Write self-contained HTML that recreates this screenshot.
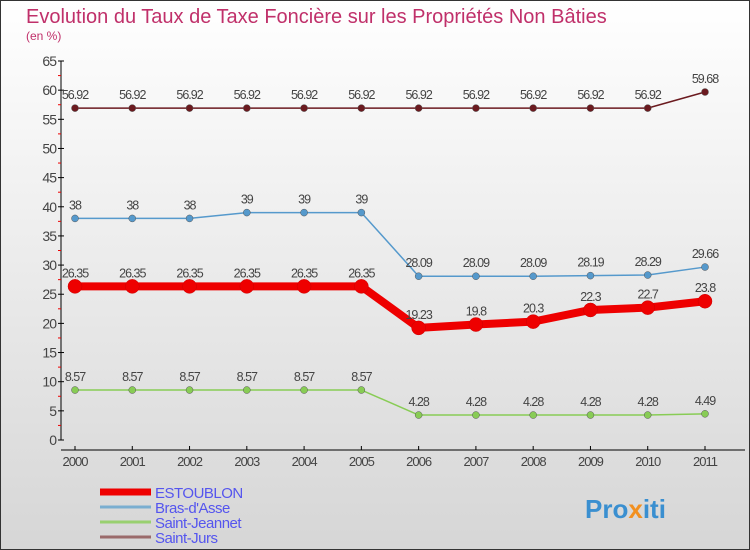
<!DOCTYPE html>
<html><head><meta charset="utf-8"><style>
body{margin:0}
#c{width:750px;height:550px;position:relative;background:linear-gradient(#ffffff,#d6d6d6);border:1px solid #333;box-sizing:border-box;overflow:hidden;font-family:"Liberation Sans",sans-serif}
</style></head><body>
<div id="c">
<svg id="s" width="750" height="550" style="position:absolute;left:-1px;top:-1px">
<text x="26" y="23" font-size="20" fill="#c0306a">Evolution du Taux de Taxe Foncière sur les Propriétés Non Bâties</text>
<text x="26" y="40" font-size="12" fill="#c0306a">(en %)</text>
<text x="585" y="518" font-size="26" font-weight="bold" fill="#3a8fd0">Pro<tspan fill="#f29020">x</tspan>iti</text>
</svg>
</div>
<script>
const years=["2000","2001","2002","2003","2004","2005","2006","2007","2008","2009","2010","2011"];
const estoublon=[26.35,26.35,26.35,26.35,26.35,26.35,19.23,19.8,20.3,22.3,22.7,23.8];
const brasdasse=[38,38,38,39,39,39,28.09,28.09,28.09,28.19,28.29,29.66];
const saintJeannet=[8.57,8.57,8.57,8.57,8.57,8.57,4.28,4.28,4.28,4.28,4.28,4.49];
const saintJurs=[56.92,56.92,56.92,56.92,56.92,56.92,56.92,56.92,56.92,56.92,56.92,59.68];
const yTicks=[0,5,10,15,20,25,30,35,40,45,50,55,60,65];
const names=["ESTOUBLON","Bras-d'Asse","Saint-Jeannet","Saint-Jurs"];
const NS="http://www.w3.org/2000/svg",s=document.getElementById('s');
const X=i=>75+i*(630/11), Y=v=>440-v*(379/65);
function el(t,a,p){const e=document.createElementNS(NS,t);for(const k in a)e.setAttribute(k,a[k]);(p||s).appendChild(e);return e;}
let ya=el('line',{x1:61,y1:Y(65),x2:61,y2:440,stroke:'#000'});


let xa=el('line',{x1:61,y1:450,x2:745,y2:450,stroke:'#000'});


yTicks.forEach(v=>{
 el('line',{x1:58,y1:Y(v),x2:64,y2:Y(v),stroke:'#000'});
 if(v<65)el('line',{x1:58,y1:Y(v+2.5),x2:61,y2:Y(v+2.5),stroke:'#e00'});
 const t=el('text',{x:56,y:Y(v)+5,'font-size':14,'text-anchor':'end',fill:'#444','letter-spacing':'-1'});t.textContent=v;
 
 
});
years.forEach((y,i)=>{
 el('line',{x1:X(i),y1:446,x2:X(i),y2:450,stroke:'#000'});
 const t=el('text',{x:X(i),y:466,'font-size':13,'text-anchor':'middle',fill:'#444','letter-spacing':'-1'});t.textContent=y;
 
 
});
const series=[
 {d:saintJurs,c:'#6b1a1f',w:1.5,r:3.5,n:'saint-jurs'},
 {d:brasdasse,c:'#5599cc',w:1.5,r:3.5,n:'bras-dasse'},
 {d:saintJeannet,c:'#88cc55',w:1.5,r:3.5,n:'saint-jeannet'},
 {d:estoublon,c:'#ee0000',w:8,r:7,n:'estoublon'}];
series.forEach(S=>{
 const p=el('polyline',{points:S.d.map((v,i)=>X(i)+','+Y(v)).join(' '),fill:'none',stroke:S.c,'stroke-width':S.w,'stroke-linejoin':'round'});
 
 
 S.d.forEach((v,i)=>{
  const c=el('circle',{cx:X(i),cy:Y(v),r:S.r,fill:S.c,stroke:S.w>2?'#c00':'#555','stroke-width':0.5});
  
  
  const t=el('text',{x:X(i),y:Y(v)-9,'font-size':12.5,'text-anchor':'middle',fill:'#444','letter-spacing':'-1'});t.textContent=v;
  
  
 });
});
const lc=['#ee0000','#7aaed0','#99d070','#9a6a6a'],lw=[7,3,3,3];
names.forEach((n,i)=>{
 const y=492+i*15;
 const l=el('line',{x1:100,y1:y,x2:151,y2:y,stroke:lc[i],'stroke-width':lw[i]});
 
 
 const t=el('text',{x:155,y:y+6,'font-size':15,fill:'#5555ee','letter-spacing':'-0.5'});t.textContent=n;
 
 
});
</script>
</body></html>
